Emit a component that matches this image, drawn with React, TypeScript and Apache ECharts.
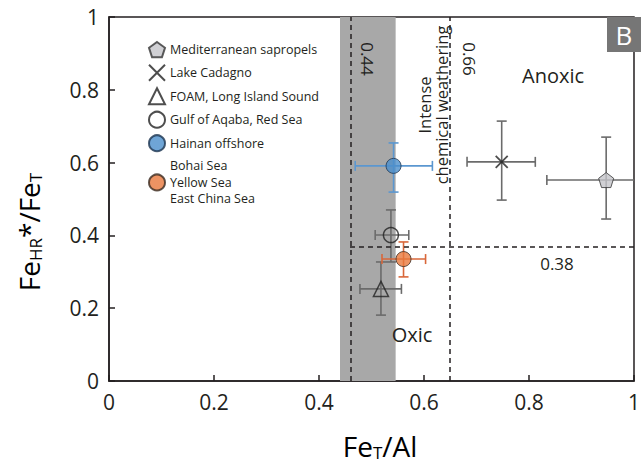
import React, { useEffect, useRef } from "react";
import * as echarts from "echarts";

// ---- data ----
const seriesNames = [
  "Mediterranean sapropels",
  "Lake Cadagno",
  "FOAM, Long Island Sound",
  "Gulf of Aqaba, Red Sea",
  "Hainan offshore",
  "Bohai Sea\nYellow Sea\nEast China Sea",
];
const xValues = [0.947, 0.748, 0.518, 0.537, 0.542, 0.561];
const yValues = [0.552, 0.602, 0.253, 0.401, 0.591, 0.335];
const xLow = [0.834, 0.682, 0.478, 0.507, 0.469, 0.52];
const xHigh = [1.06, 0.812, 0.557, 0.571, 0.616, 0.603];
const yLow = [0.445, 0.497, 0.181, 0.327, 0.519, 0.286];
const yHigh = [0.67, 0.714, 0.327, 0.47, 0.654, 0.382];

const bandRange = [0.44, 0.546];
const verticalThresholds = [0.459, 0.652];
const horizontalThreshold = 0.368;
const axisTicks = [0, 0.2, 0.4, 0.6, 0.8, 1];

const FONT = "Open Sans";
const INK = "#231f20";

const errColors = ["#6b6b6b", "#6b6b6b", "#6b6b6b", "#6b6b6b", "#5b97d0", "#d9673a"];
const symbols = [
  "path://M50,0 L97.6,34.5 L79.4,90.5 L20.6,90.5 L2.4,34.5 Z",
  "path://M0,0L10,10M10,0L0,10",
  "triangle",
  "circle",
  "circle",
  "circle",
];
const symbolSizes = [15, 12, 15, 15, 15, 15];
const itemStyles = [
  { color: "#c4c4c9", borderColor: "#333333", borderWidth: 1 },
  { color: "rgba(0,0,0,0)", borderColor: "#222222", borderWidth: 1.8 },
  { color: "rgba(0,0,0,0)", borderColor: "#222222", borderWidth: 1.5 },
  { color: "rgba(0,0,0,0)", borderColor: "#222222", borderWidth: 1.5 },
  { color: "#4b8fcc", borderColor: "#1d3550", borderWidth: 1 },
  { color: "#e8783c", borderColor: "#3a2a20", borderWidth: 1 },
];

const subRich = {
  n: { fontSize: 28, fontFamily: FONT, color: INK, lineHeight: 30 },
  s: { fontSize: 17, fontFamily: FONT, color: INK, lineHeight: 14, verticalAlign: "bottom" },
};

export default function App() {
  const ref = useRef<HTMLDivElement>(null);
  useEffect(() => {
    document.body.style.margin = "0";
    if (!ref.current) return;
    const chart = echarts.init(ref.current, null, { renderer: "svg" });

    const errData = xValues.map((x, i) => [x, yValues[i], xLow[i], xHigh[i], yLow[i], yHigh[i], i]);

    const errorSeries: any = {
      type: "custom",
      name: "errors",
      clip: true,
      z: 3,
      data: errData,
      encode: { x: [0, 2, 3], y: [1, 4, 5] },
      renderItem: (params: any, api: any) => {
        const x = api.value(0), y = api.value(1);
        const xl = api.value(2), xh = api.value(3), yl = api.value(4), yh = api.value(5);
        const idx = api.value(6);
        const c = errColors[idx];
        const pL = api.coord([xl, y]);
        const pR = api.coord([xh, y]);
        const pB = api.coord([x, yl]);
        const pT = api.coord([x, yh]);
        const cap = 5;
        const st = { stroke: c, lineWidth: 1.6 };
        const ln = (x1: number, y1: number, x2: number, y2: number) => ({
          type: "line",
          shape: { x1, y1, x2, y2 },
          style: st,
        });
        return {
          type: "group",
          children: [
            ln(pL[0], pL[1], pR[0], pR[1]),
            ln(pB[0], pB[1], pT[0], pT[1]),
            ln(pL[0], pL[1] - cap, pL[0], pL[1] + cap),
            ln(pR[0], pR[1] - cap, pR[0], pR[1] + cap),
            ln(pT[0] - cap, pT[1], pT[0] + cap, pT[1]),
            ln(pB[0] - cap, pB[1], pB[0] + cap, pB[1]),
          ],
        };
      },
      markArea: {
        silent: true,
        itemStyle: { color: "#a8a8a8" },
        data: [[{ xAxis: bandRange[0] }, { xAxis: bandRange[1] }]],
      },
      markLine: {
        silent: true,
        symbol: "none",
        label: { show: false },
        lineStyle: { color: INK, width: 1.5, type: [5, 4] },
        data: [
          { xAxis: verticalThresholds[0] },
          { xAxis: verticalThresholds[1] },
          [
            { coord: [verticalThresholds[0], horizontalThreshold] },
            { coord: [1, horizontalThreshold] },
          ],
        ],
      },
    };

    const scatterSeries = seriesNames.map((name, i) => ({
      type: "scatter",
      name,
      z: 5,
      symbol: symbols[i],
      symbolSize: symbolSizes[i],
      itemStyle: itemStyles[i],
      data: [[xValues[i], yValues[i]]],
    }));

    const axisCommon: any = {
      type: "value",
      min: 0,
      max: 1,
      interval: 0.2,
      splitLine: { show: false },
      axisLine: { show: true, lineStyle: { color: INK, width: 1.5 } },
      axisTick: { show: true, inside: true, length: 6, lineStyle: { color: INK, width: 1.5 } },
      axisLabel: {
        fontSize: 21,
        fontFamily: FONT,
        color: INK,
        margin: 10,
        formatter: (v: number) => {
          const t = axisTicks.find((a) => Math.abs(a - v) < 1e-6);
          return String(t !== undefined ? t : +v.toFixed(1));
        },
      },
    };

    const txt = (text: string, x: number, y: number, fontSize: number, rotation = 0, extra: any = {}) => ({
      type: "text",
      x,
      y,
      z: 100,
      rotation,
      style: { text, fontSize, fontFamily: FONT, fill: INK, align: "center", verticalAlign: "middle", ...extra },
    });

    chart.setOption({
      animation: false,
      grid: {
        left: 109,
        right: 2,
        top: 17,
        bottom: 84,
        show: true,
        borderColor: INK,
        borderWidth: 1.5,
        backgroundColor: "transparent",
      },
      xAxis: { ...axisCommon },
      yAxis: { ...axisCommon },
      legend: {
        orient: "vertical",
        left: 143,
        top: 36,
        itemWidth: 16,
        itemHeight: 16,
        itemGap: 5.5,
        selectedMode: false,
        textStyle: { fontSize: 12.5, lineHeight: 16.5, fontFamily: FONT, color: INK },
        data: seriesNames,
      },
      series: [errorSeries, ...scatterSeries],
      graphic: [
        {
          type: "text",
          x: 29,
          y: 232,
          z: 100,
          rotation: Math.PI / 2,
          style: {
            text: "{n|Fe}{s|HR}{n|*/Fe}{s|T}",
            rich: subRich,
            align: "center",
            verticalAlign: "middle",
          },
        },
        {
          type: "text",
          x: 380,
          y: 446,
          z: 100,
          style: {
            text: "{n|Fe}{s|T}{n|/Al}",
            rich: subRich,
            align: "center",
            verticalAlign: "middle",
          },
        },
        {
          type: "rect",
          x: 607,
          y: 17,
          z: 100,
          shape: { width: 34, height: 35 },
          style: { fill: "#767676" },
        },
        {
          type: "text",
          x: 624,
          y: 35,
          z: 101,
          style: { text: "B", fontSize: 26, fontFamily: FONT, fill: "#ffffff", align: "center", verticalAlign: "middle" },
        },
        txt("Anoxic", 553, 75, 20),
        txt("Oxic", 412, 334, 20),
        txt("0.38", 557, 263, 17),
        txt("0.44", 367, 59, 17, -Math.PI / 2),
        txt("0.66", 469, 59, 17, -Math.PI / 2),
        txt("Intense\nchemical weathering", 433, 105, 16.5, Math.PI / 2, { lineHeight: 17 }),
      ],
    });
    return () => chart.dispose();
  }, []);
  return <div ref={ref} style={{ width: 643, height: 465 }} />;
}
